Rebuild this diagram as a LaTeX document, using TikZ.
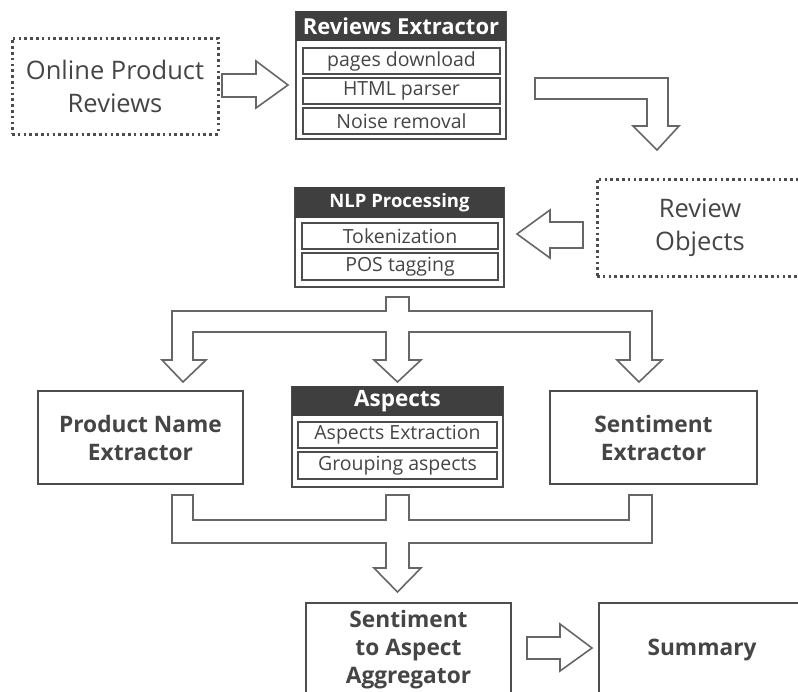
\documentclass[tikz,border=0pt]{standalone}
\usepackage{fontspec}
\setmainfont{Open Sans}
\definecolor{ink}{HTML}{454545}
\definecolor{frame}{HTML}{4D4D4D}
\definecolor{headfill}{HTML}{3F3F3F}
\definecolor{arrowline}{HTML}{666666}

\begin{document}
\begin{tikzpicture}[x=1pt,y=-1pt,
  dotbox/.style={draw=frame, line width=3pt, dash pattern=on 2.6pt off 3.2pt,
    text=ink, font=\fontsize{25.5}{33}\selectfont, align=center, inner sep=0pt},
  plainbox/.style={draw=frame, line width=2pt, text=ink,
    font=\bfseries\fontsize{22.7}{28}\selectfont, align=center, inner sep=0pt},
  panel/.style={draw=frame, line width=1.6pt, inner sep=0pt},
  header/.style={fill=headfill, text=white, inner sep=0pt},
  item/.style={draw=frame, line width=1.3pt, text=ink,
    font=\fontsize{19.5}{19.5}\selectfont, inner sep=0pt},
  blockarrow/.style={draw=arrowline, line width=1.6pt, fill=white, line join=miter}
]
\useasboundingbox (0,0) rectangle (798,691);

% sources and intermediate data
\node[dotbox, minimum width=206pt, minimum height=96pt] (online) at (115,86)
  {Online Product\\Reviews};
\node[dotbox, minimum width=206pt, minimum height=97pt] (objects) at (700,227.5)
  {Review\\Objects};

% Reviews Extractor
\node[panel, minimum width=210pt, minimum height=127pt] (revx) at (401,75.5) {};
\node[header, minimum width=210pt, minimum height=30pt, anchor=north,
  font=\bfseries\fontsize{22}{22}\selectfont] (revxh) at (revx.north) {Reviews Extractor};
\node[item, minimum width=197pt, minimum height=26pt] (pages) at (401.5,61) {pages download};
\node[item, minimum width=197pt, minimum height=26pt] (html) at (401.5,91) {HTML parser};
\node[item, minimum width=197pt, minimum height=26pt] (noise) at (401.5,121) {Noise removal};

% NLP Processing
\node[panel, minimum width=209pt, minimum height=99pt] (nlp) at (399.5,237.5) {};
\node[header, minimum width=209pt, minimum height=31pt, anchor=north,
  font=\bfseries\fontsize{18.5}{18.5}\selectfont] (nlph) at (nlp.north) {NLP Processing};
\node[item, minimum width=196pt, minimum height=26pt] (token) at (400,236) {Tokenization};
\node[item, minimum width=196pt, minimum height=27pt] (pos) at (400,266.5) {POS tagging};

% extractors
\node[plainbox, minimum width=205pt, minimum height=93pt] (prod) at (140.5,437.5)
  {Product Name\\Extractor};
\node[plainbox, minimum width=207pt, minimum height=93pt] (sent) at (653.5,437.5)
  {Sentiment\\Extractor};

% Aspects
\node[panel, minimum width=211pt, minimum height=100pt] (asp) at (397.5,437) {};
\node[header, minimum width=211pt, minimum height=30pt, anchor=north,
  font=\bfseries\fontsize{22.5}{22.5}\selectfont] (asph) at (asp.north) {Aspects};
\node[item, minimum width=199pt, minimum height=26pt] (aspx) at (397.5,435) {Aspects Extraction};
\node[item, minimum width=199pt, minimum height=27pt] (group) at (397.5,465.5) {Grouping aspects};

% aggregation and output
\node[plainbox, minimum width=205pt, minimum height=94pt] (agg) at (408.5,650)
  {Sentiment\\to Aspect\\Aggregator};
\node[plainbox, minimum width=206pt, minimum height=94pt] (summ) at (702,650) {Summary};

% block arrows
\draw[blockarrow] (222,74) -- (256,74) -- (256,61) -- (288,85) -- (256,108)
  -- (256,97) -- (222,97) -- cycle;
\draw[blockarrow] (535,78) -- (668,78) -- (668,126) -- (679,126) -- (657,150)
  -- (633,126) -- (647,126) -- (647,99) -- (535,99) -- cycle;
\draw[blockarrow] (583,222) -- (550,222) -- (550,210) -- (517,234) -- (550,258)
  -- (550,248) -- (583,248) -- cycle;
\draw[blockarrow] (386,297) -- (409,297) -- (409,311) -- (652,311) -- (652,360)
  -- (662,360) -- (639,382) -- (617,360) -- (630,360) -- (630,332) -- (409,332)
  -- (409,360) -- (421,360) -- (397.5,382) -- (374,360) -- (386,360) -- (386,332)
  -- (193,332) -- (193,360) -- (206,360) -- (183,382) -- (162,360) -- (172,360)
  -- (172,311) -- (386,311) -- cycle;
\draw[blockarrow] (172,495) -- (193,495) -- (193,520) -- (386,520) -- (386,495)
  -- (409,495) -- (409,520) -- (629,520) -- (629,495) -- (652,495) -- (652,543)
  -- (409,543) -- (409,568) -- (421,568) -- (397.5,592) -- (374,568) -- (386,568)
  -- (386,543) -- (172,543) -- cycle;
\draw[blockarrow] (527,637) -- (560,637) -- (560,624) -- (592,648) -- (560,671)
  -- (560,659) -- (527,659) -- cycle;
\end{tikzpicture}
\end{document}
